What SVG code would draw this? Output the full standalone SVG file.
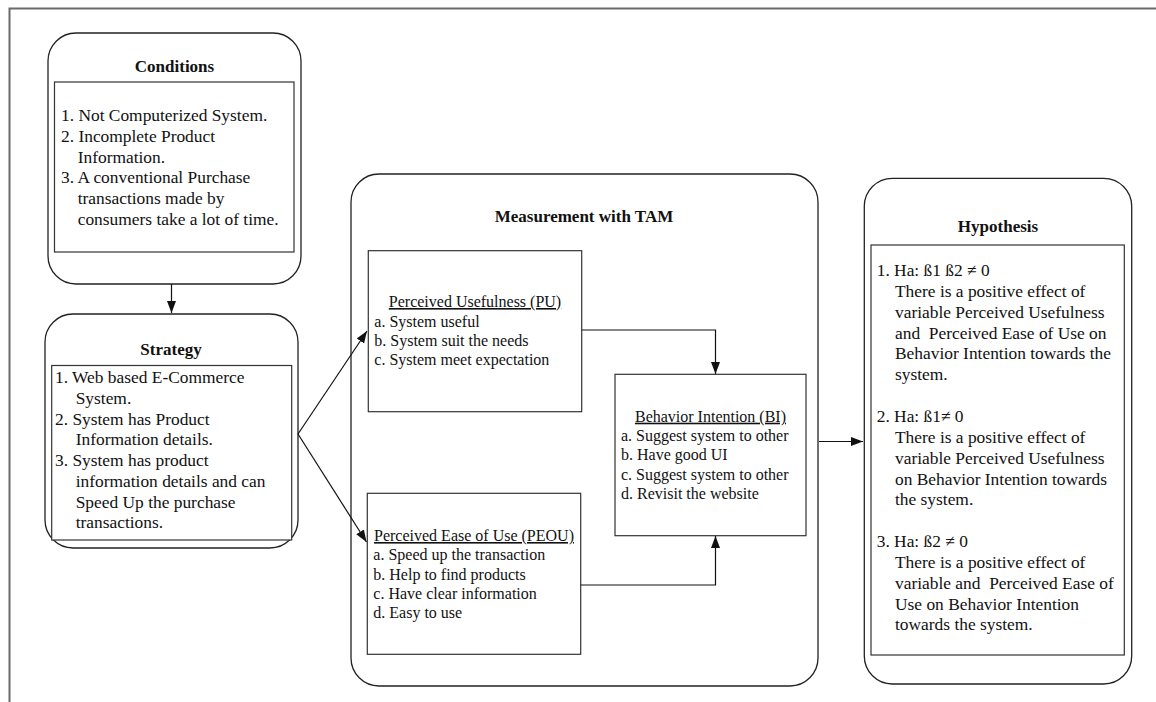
<svg xmlns="http://www.w3.org/2000/svg" width="1156" height="702" viewBox="0 0 1156 702">
<style>
.frame{fill:none;stroke:#6a6a6a;stroke-width:2}
.rb{fill:#fff;stroke:#222;stroke-width:1.3}
.ib{fill:#fff;stroke:#333;stroke-width:1.2}
.t{font-family:"Liberation Serif","Times New Roman",serif;font-size:17.4px;fill:#111}
.s{font-family:"Liberation Serif","Times New Roman",serif;font-size:16px;fill:#111}
.h{font-family:"Liberation Serif","Times New Roman",serif;font-size:17px;font-weight:bold;fill:#111;text-anchor:middle}
.u{text-decoration:underline;text-anchor:middle}
.c{fill:none;stroke:#111;stroke-width:1.2}
</style>
<defs>
<marker id="ah" markerWidth="12" markerHeight="10" refX="12" refY="5" orient="auto" markerUnits="userSpaceOnUse">
<path d="M0,0.5 L12,5 L0,9.5 z" fill="#111"/>
</marker>
</defs>
<rect width="1156" height="702" fill="#fff"/>
<path class="frame" d="M9.5,702 V8.5 H1156"/>

<g id="conditions">
<rect class="rb" x="48" y="33" width="253" height="251" rx="28"/>
<text class="h" x="174.5" y="72">Conditions</text>
<rect class="ib" x="54.5" y="82" width="239.5" height="170"/>
<text class="t">
<tspan x="61" y="121">1. Not Computerized System.</tspan>
<tspan x="61" y="141.8">2. Incomplete Product</tspan>
<tspan x="77.7" y="162.6">Information.</tspan>
<tspan x="61" y="183.4">3. A conventional Purchase</tspan>
<tspan x="77.7" y="204.2">transactions made by</tspan>
<tspan x="77.7" y="225">consumers take a lot of time.</tspan>
</text>
</g>

<g id="strategy">
<rect class="rb" x="45" y="314" width="253" height="234" rx="28"/>
<text class="h" x="171" y="355">Strategy</text>
<rect class="ib" x="51.7" y="365.5" width="240" height="174.5"/>
<text class="t">
<tspan x="55" y="383.3">1. Web based E-Commerce</tspan>
<tspan x="75.7" y="404">System.</tspan>
<tspan x="55" y="424.7">2. System has Product</tspan>
<tspan x="75.7" y="445.4">Information details.</tspan>
<tspan x="55" y="466.1">3. System has product</tspan>
<tspan x="75.7" y="486.8">information details and can</tspan>
<tspan x="75.7" y="507.5">Speed Up the purchase</tspan>
<tspan x="75.7" y="528.2">transactions.</tspan>
</text>
</g>

<g id="tam">
<rect class="rb" x="351" y="174" width="467" height="512" rx="28"/>
<text class="h" x="584" y="222">Measurement with TAM</text>
</g>

<g id="pu">
<rect class="ib" x="368.3" y="250.7" width="213.4" height="161"/>
<text class="s u" x="475" y="307">Perceived Usefulness (PU)</text>
<text class="s">
<tspan x="374.3" y="326.5">a. System useful</tspan>
<tspan x="374.3" y="345.8">b. System suit the needs</tspan>
<tspan x="374.3" y="365.1">c. System meet expectation</tspan>
</text>
</g>

<g id="peou">
<rect class="ib" x="367.3" y="493.3" width="213.4" height="161"/>
<text class="s u" x="474" y="541">Perceived Ease of Use (PEOU)</text>
<text class="s">
<tspan x="373.3" y="560.3">a. Speed up the transaction</tspan>
<tspan x="373.3" y="579.6">b. Help to find products</tspan>
<tspan x="373.3" y="598.9">c. Have clear information</tspan>
<tspan x="373.3" y="618.2">d. Easy to use</tspan>
</text>
</g>

<g id="bi">
<rect class="ib" x="615" y="374.3" width="191" height="161.4"/>
<text class="s u" x="710.5" y="421.7">Behavior Intention (BI)</text>
<text class="s">
<tspan x="621" y="441">a. Suggest system to other</tspan>
<tspan x="621" y="460.3">b. Have good UI</tspan>
<tspan x="621" y="479.6">c. Suggest system to other</tspan>
<tspan x="621" y="498.9">d. Revisit the website</tspan>
</text>
</g>

<g id="hypothesis">
<rect class="rb" x="864.3" y="178.3" width="267.4" height="505.7" rx="28"/>
<text class="h" x="998" y="232">Hypothesis</text>
<rect class="ib" x="871" y="245" width="253.3" height="410"/>
<text class="t">
<tspan x="876.7" y="276">1. Ha: ß1 ß2 ≠ 0</tspan>
<tspan x="895" y="296.8">There is a positive effect of</tspan>
<tspan x="895" y="317.7">variable Perceived Usefulness</tspan>
<tspan x="895" y="338.5">and&#160; Perceived Ease of Use on</tspan>
<tspan x="895" y="359.4">Behavior Intention towards the</tspan>
<tspan x="895" y="380.2">system.</tspan>
<tspan x="876.7" y="421.9">2. Ha: ß1≠ 0</tspan>
<tspan x="895" y="442.8">There is a positive effect of</tspan>
<tspan x="895" y="463.6">variable Perceived Usefulness</tspan>
<tspan x="895" y="484.5">on Behavior Intention towards</tspan>
<tspan x="895" y="505.3">the system.</tspan>
<tspan x="876.7" y="547">3. Ha: ß2 ≠ 0</tspan>
<tspan x="895" y="567.9">There is a positive effect of</tspan>
<tspan x="895" y="588.7">variable and&#160; Perceived Ease of</tspan>
<tspan x="895" y="609.6">Use on Behavior Intention</tspan>
<tspan x="895" y="630.4">towards the system.</tspan>
</text>
</g>

<g id="connectors">
<path class="c" d="M171.5,284 V313" marker-end="url(#ah)"/>
<path class="c" d="M298,434 L367,331" marker-end="url(#ah)"/>
<path class="c" d="M298,434 L366.5,542" marker-end="url(#ah)"/>
<path class="c" d="M581.7,330 H715.5 V374" marker-end="url(#ah)"/>
<path class="c" d="M580.7,585 H715.5 V536" marker-end="url(#ah)"/>
<path class="c" d="M819,441.5 H863" marker-end="url(#ah)"/>
</g>
</svg>
